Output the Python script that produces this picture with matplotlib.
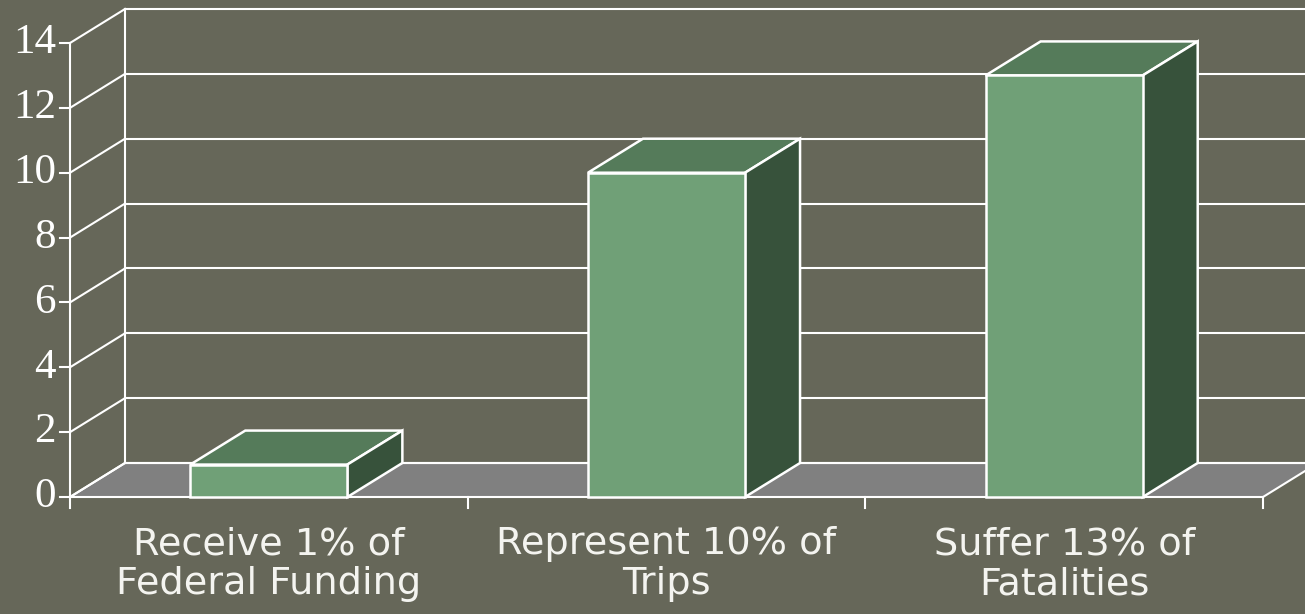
import matplotlib
matplotlib.use("Agg")
import matplotlib.pyplot as plt
from matplotlib.patches import Polygon

categories = ["Receive 1% of\nFederal Funding", "Represent 10% of\nTrips", "Suffer 13% of\nFatalities"]
values = [1, 10, 13]
yticks = [0, 2, 4, 6, 8, 10, 12, 14]

bg = "#666759"
front_col = "#70a077"
top_col = "#557b5a"
side_col = "#37523b"
floor_col = "#808080"

fig = plt.figure(figsize=(13.05, 6.14), dpi=100, facecolor=bg)
ax = fig.add_axes([70 / 1305, 117 / 614, 1193 / 1305, 454 / 614])
ax.set_xlim(0, 3)
ax.set_ylim(0, 14)
ax.axis("off")

# oblique depth offset (data units)
dx = 55 / (1193 / 3)
dy = 34 / (454 / 14)

# floor
ax.add_patch(Polygon([(0, 0), (3, 0), (3 + dx, dy), (dx, dy)], closed=True,
                     facecolor=floor_col, edgecolor="white", lw=1.5, zorder=1, clip_on=False))

# back wall grid + side wall diagonals
for v in yticks:
    ax.plot([dx, 3.5], [v + dy, v + dy], color="white", lw=1.5, zorder=2, clip_on=False)
    ax.plot([0, dx], [v, v + dy], color="white", lw=1.5, zorder=2, clip_on=False)
    ax.plot([-0.025, 0], [v, v], color="white", lw=1.5, zorder=2, clip_on=False)
    ax.text(-0.035, v, str(v), ha="right", va="center", color="white",
            fontsize=31, family="Liberation Serif")
ax.plot([dx, dx], [dy, 14 + dy], color="white", lw=1.5, zorder=2, clip_on=False)
ax.plot([0, 0], [0, 14], color="white", lw=1.5, zorder=2, clip_on=False)

# x axis ticks
for i in range(4):
    ax.plot([i, i], [0, -0.35], color="white", lw=1.5, zorder=2, clip_on=False)

# bars
w = 0.395
for i, v in enumerate(values):
    x0 = i + 0.5 - w / 2
    x1 = i + 0.5 + w / 2
    ax.add_patch(Polygon([(x0, v), (x1, v), (x1 + dx, v + dy), (x0 + dx, v + dy)],
                         facecolor=top_col, edgecolor="white", lw=1.8, zorder=3, clip_on=False))
    ax.add_patch(Polygon([(x1, 0), (x1 + dx, dy), (x1 + dx, v + dy), (x1, v)],
                         facecolor=side_col, edgecolor="white", lw=1.8, zorder=3, clip_on=False))
    ax.add_patch(Polygon([(x0, 0), (x1, 0), (x1, v), (x0, v)],
                         facecolor=front_col, edgecolor="white", lw=1.8, zorder=4, clip_on=False))
    ax.text(i + 0.5, -0.9, categories[i], ha="center", va="top", color="#f4f4f0",
            fontsize=27.5, family="DejaVu Sans", linespacing=1.15)

fig.savefig("out.png", dpi=100, facecolor=bg)
